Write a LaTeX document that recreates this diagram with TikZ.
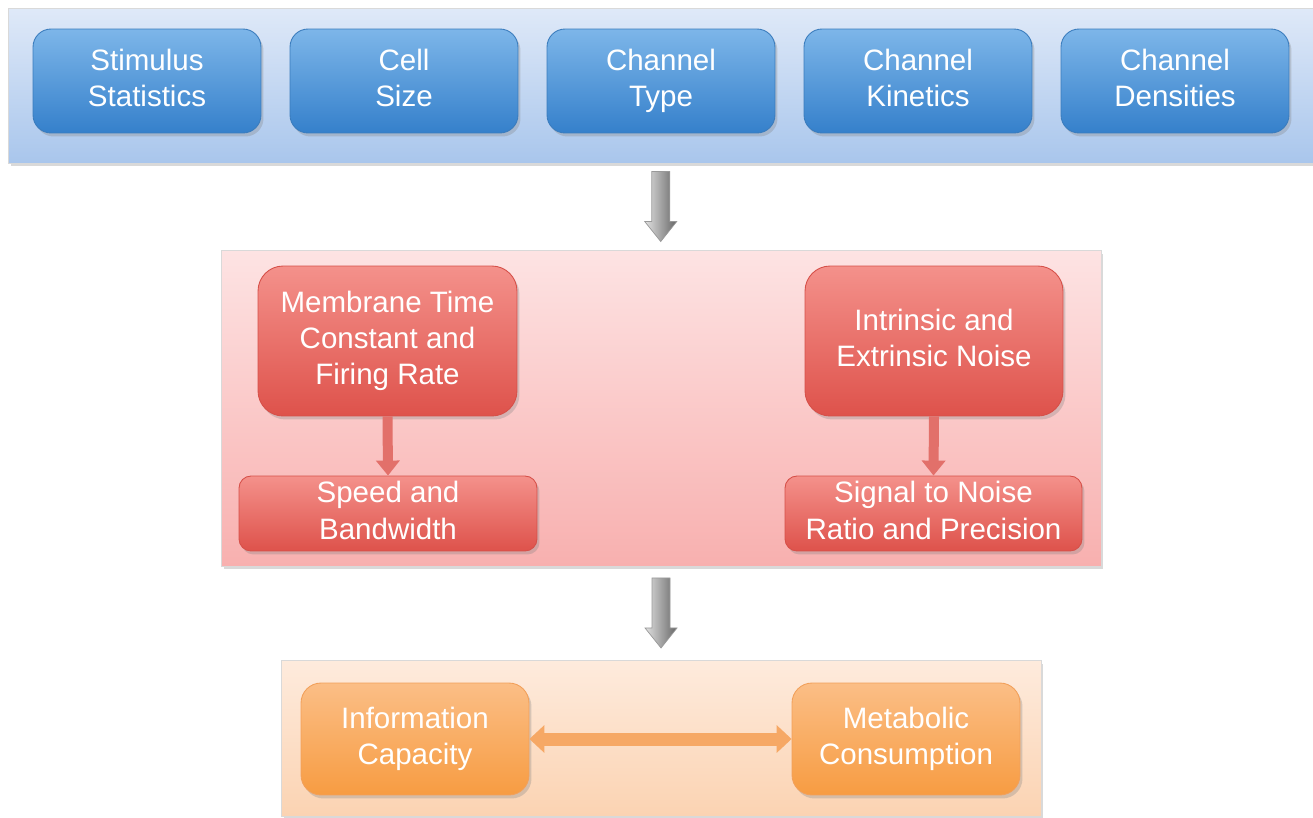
\documentclass[tikz,border=0pt]{standalone}
\usepackage{fontspec}
\setmainfont{Liberation Sans}
\usetikzlibrary{shadows,arrows.meta,calc}
\definecolor{bandBt}{HTML}{DFE9F8}
\definecolor{bandBb}{HTML}{A9C6EC}
\definecolor{boxBt}{HTML}{7DB6E9}
\definecolor{boxBb}{HTML}{3580CB}
\definecolor{boxBd}{HTML}{3A7CBD}
\definecolor{bandRt}{HTML}{FDE3E3}
\definecolor{bandRb}{HTML}{F8B0AF}
\definecolor{boxRt}{HTML}{F4918B}
\definecolor{boxRb}{HTML}{DE524B}
\definecolor{boxRd}{HTML}{D65049}
\definecolor{arrR}{HTML}{E2706A}
\definecolor{bandOt}{HTML}{FEEBDD}
\definecolor{bandOb}{HTML}{FBD3B2}
\definecolor{boxOt}{HTML}{FBBE86}
\definecolor{boxOb}{HTML}{F79C42}
\definecolor{boxOd}{HTML}{F2A05A}
\definecolor{arrO}{HTML}{F6A865}
\begin{document}
\begin{tikzpicture}[x=0.02cm,y=-0.02cm,
  lbl/.style={text=white,align=center,font=\fontsize{16.8}{20.6}\selectfont,inner xsep=0pt,inner ysep=-4pt,
    execute at begin node=\rule{0pt}{20.9pt},execute at end node=\rule[-3.6pt]{0pt}{0pt}},
  shad/.style={drop shadow={shadow xshift=0.5mm,shadow yshift=-0.7mm,opacity=0.3}},
  band/.style={rectangle,shad,draw=black!15,line width=0.3pt},
  bband/.style={band,top color=bandBt,bottom color=bandBb,minimum width=26.1cm,minimum height=3.1cm},
  rband/.style={band,top color=bandRt,bottom color=bandRb,minimum width=17.6cm,minimum height=6.32cm},
  oband/.style={band,top color=bandOt,bottom color=bandOb,minimum width=15.2cm,minimum height=3.12cm},
  bbox/.style={lbl,shad,rounded corners=0.36cm,top color=boxBt,bottom color=boxBb,draw=boxBd,line width=0.5pt,minimum width=4.56cm,minimum height=2.08cm},
  rbig/.style={lbl,shad,rounded corners=0.5cm,top color=boxRt,bottom color=boxRb,draw=boxRd,line width=0.5pt,minimum height=3cm},
  rsmall/.style={lbl,shad,rounded corners=0.24cm,top color=boxRt,bottom color=boxRb,draw=boxRd,line width=0.5pt,minimum height=1.5cm},
  obox/.style={lbl,shad,rounded corners=0.4cm,top color=boxOt,bottom color=boxOb,draw=boxOd,line width=0.5pt,minimum width=4.56cm,minimum height=2.24cm},
  rarrow/.style={arrR,line width=2mm,-{Triangle[width=4.6mm,length=3mm]}},
  oarrow/.style={arrO,line width=2.6mm,{Triangle[width=5.4mm,length=3mm]}-{Triangle[width=5.4mm,length=3mm]}},
  garrow/.style={left color=black!12,right color=black!60,draw=black!40,line width=0.4pt}
]
\useasboundingbox (0,0) rectangle (1313,818);

% bands
\node[bband] (top) at (660.5,85.5) {};
\node[rband] (mid) at (661,408) {};
\node[oband] (bot) at (661,738) {};

% top row
\node[bbox] (b1) at (147,81) {Stimulus\\Statistics};
\node[bbox] (b2) at (404,81) {Cell\\Size};
\node[bbox] (b3) at (661,81) {Channel\\Type};
\node[bbox] (b4) at (918,81) {Channel\\Kinetics};
\node[bbox] (b5) at (1175,81) {Channel\\Densities};

% middle
\node[rbig,minimum width=5.18cm] (ra) at (387.5,341) {Membrane Time\\Constant and\\Firing Rate};
\node[rsmall,minimum width=5.96cm] (rb) at (388,513.5) {Speed and\\Bandwidth};
\node[rbig,minimum width=5.16cm] (rc) at (934,341) {Intrinsic and\\Extrinsic Noise};
\node[rsmall,minimum width=5.94cm] (rd) at (933.5,513.5) {Signal to Noise\\Ratio and Precision};

% bottom
\node[obox] (oe) at (415,739) {Information\\Capacity};
\node[obox] (of) at (906,739) {Metabolic\\Consumption};

% red arrows
\draw[rarrow] (ra.south) -- (rb.north);
\draw[rarrow] (rc.south) -- (rd.north);

% orange double arrow
\draw[oarrow] (oe.east) -- (of.west);

% gray block arrows
\coordinate (g1) at ($(top.south)!0.5!(mid.north)$);
\coordinate (g2) at ($(mid.south)!0.5!(bot.north)$);
\foreach \g in {g1,g2}{
  \shade[garrow] ([shift={(-9,-35)}]\g) -- ([shift={(9,-35)}]\g) -- ([shift={(9,15)}]\g)
    -- ([shift={(16,15)}]\g) -- ([shift={(0,35)}]\g) -- ([shift={(-16,15)}]\g)
    -- ([shift={(-9,15)}]\g) -- cycle;
}
\end{tikzpicture}
\end{document}
